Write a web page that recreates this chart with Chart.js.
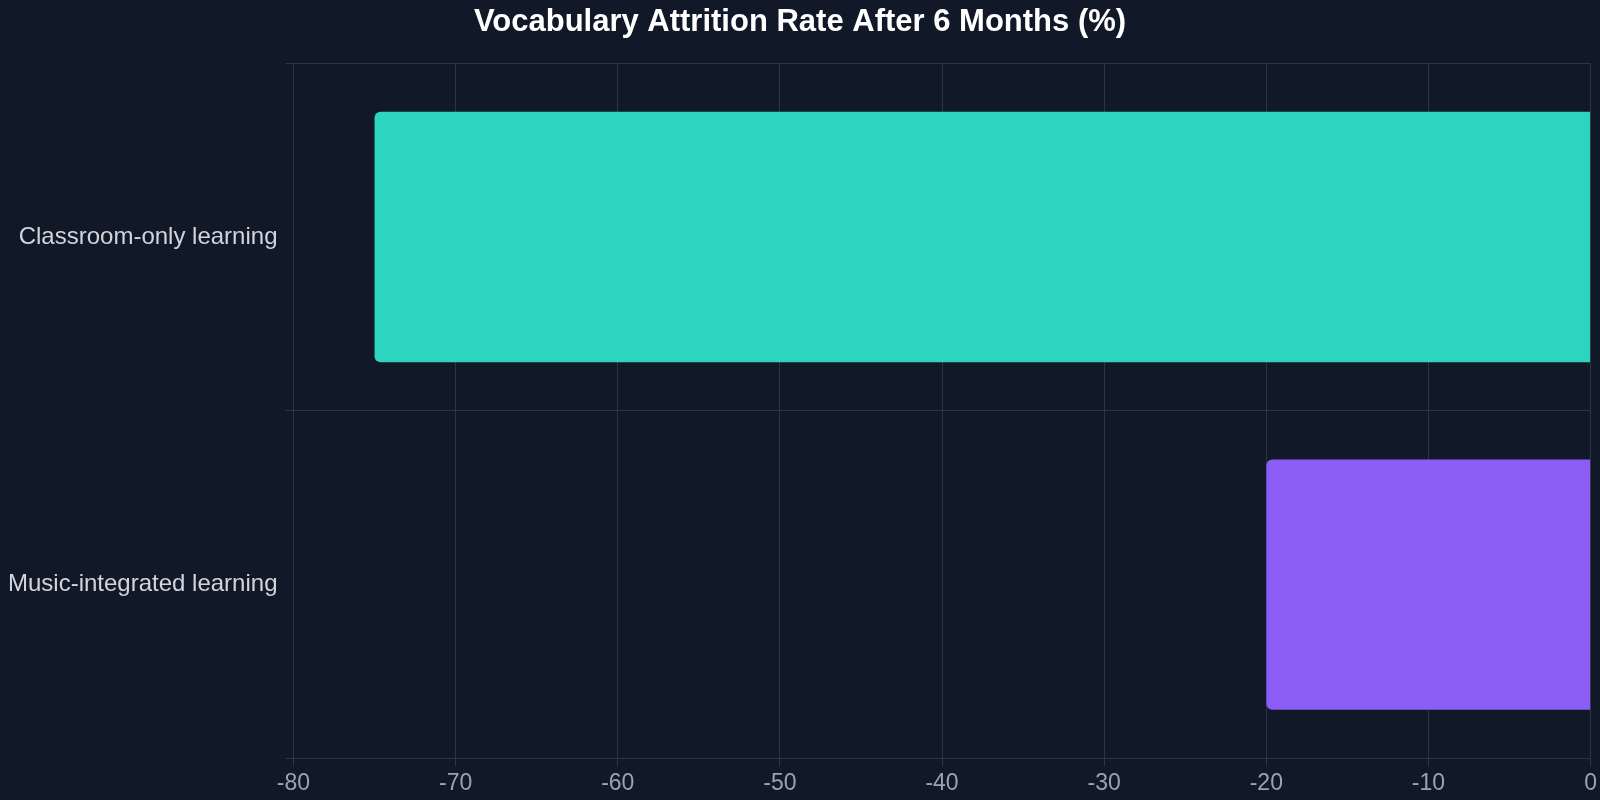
<!DOCTYPE html>
<html><head><meta charset="utf-8">
<script src="https://cdn.jsdelivr.net/npm/chart.js@4"></script>
<style>html,body{margin:0;background:#111827;}#w{width:1600px;height:800px;}</style>
</head><body><div id="w"><canvas id="c"></canvas></div>
<script>
const categories = ["Classroom-only learning", "Music-integrated learning"];
const attritionValues = [-75, -20];
const barColors = ["#2dd4bf", "#8b5cf6"];
new Chart(document.getElementById('c'), {
  type: 'bar',
  data: { labels: categories, datasets: [{ data: attritionValues, backgroundColor: barColors, borderRadius: 6, barPercentage: 0.72, categoryPercentage: 1 }] },
  options: {
    indexAxis: 'y', responsive: true, maintainAspectRatio: false, animation: false,
    layout: { padding: { right: 0, bottom: 0, top: 2 } },
    plugins: { legend: { display: false }, tooltip: { enabled: false },
      title: { display: true, text: 'Vocabulary Attrition Rate After 6 Months (%)', color: '#ffffff', font: { family: 'Liberation Sans', size: 31, weight: 'bold' }, padding: { top: 2, bottom: 22 } } },
    scales: {
      x: { min: -80, max: 0, ticks: { stepSize: 10, color: '#9ca3af', font: { family: 'Liberation Sans', size: 23 } }, grid: { color: '#2d3442' }, border: { color: '#2d3442' } },
      y: { ticks: { color: '#d1d5db', padding: 8, font: { family: 'Liberation Sans', size: 24 } }, grid: { color: '#2d3442' }, border: { color: '#2d3442' } }
    }
  }
});
</script></body></html>
